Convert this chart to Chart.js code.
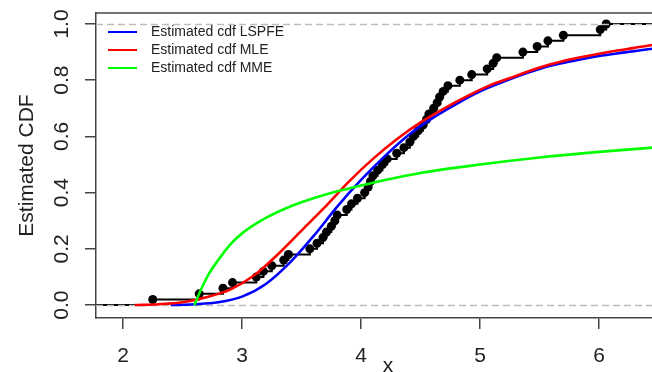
<!DOCTYPE html>
<html>
<head>
<meta charset="utf-8">
<script src="https://cdn.jsdelivr.net/npm/chart.js@4.4.1/dist/chart.umd.min.js"></script>
<style>
  html, body { margin: 0; padding: 0; background: #fff; overflow: hidden; width: 652px; height: 372px; }
  canvas { display: block; }
</style>
</head>
<body>
<canvas id="cdfChart" width="680" height="372"></canvas>
<script>
// observed sample (sorted) -> empirical cdf
const sample = [2.25, 2.64, 2.84, 2.92, 3.12, 3.18, 3.25, 3.35, 3.39, 3.57,
  3.63, 3.68, 3.71, 3.75, 3.78, 3.80, 3.88, 3.92, 3.97, 4.03,
  4.06, 4.08, 4.10, 4.14, 4.18, 4.22, 4.30, 4.36, 4.41, 4.44,
  4.48, 4.52, 4.55, 4.57, 4.61, 4.64, 4.66, 4.69, 4.73, 4.83,
  4.93, 5.06, 5.11, 5.14, 5.36, 5.48, 5.57, 5.70, 6.01, 6.06];

// fitted cdf curves
const lspfeX = [2.40, 2.60, 2.80, 3.00, 3.20, 3.40, 3.60, 3.80, 4.00, 4.20, 4.40, 4.60, 4.80, 5.00, 5.20, 5.40, 5.60, 5.80, 6.00, 6.20, 6.45, 6.68];
const lspfeY = [0.0, 0.003, 0.010, 0.030, 0.075, 0.15, 0.245, 0.35, 0.445, 0.53, 0.605, 0.665, 0.715, 0.76, 0.795, 0.826, 0.852, 0.870, 0.886, 0.898, 0.912, 0.922];
const mleX = [2.10, 2.30, 2.50, 2.70, 2.90, 3.10, 3.30, 3.50, 3.70, 3.90, 4.10, 4.30, 4.50, 4.70, 4.90, 5.10, 5.30, 5.50, 5.70, 5.90, 6.10, 6.30, 6.45, 6.68];
const mleY = [0.0, 0.003, 0.010, 0.028, 0.055, 0.105, 0.18, 0.265, 0.35, 0.44, 0.52, 0.59, 0.65, 0.70, 0.745, 0.785, 0.815, 0.845, 0.868, 0.886, 0.902, 0.915, 0.925, 0.936];
const mmeX = [2.60, 2.65, 2.72, 2.80, 2.90, 3.00, 3.20, 3.40, 3.60, 3.80, 4.00, 4.20, 4.50, 5.00, 5.50, 6.00, 6.45, 6.68];
const mmeY = [0.0, 0.05, 0.11, 0.16, 0.215, 0.255, 0.31, 0.35, 0.38, 0.405, 0.425, 0.445, 0.47, 0.50, 0.525, 0.545, 0.56, 0.566];

const xTicks = [2, 3, 4, 5, 6];
const yTicks = [0, 0.2, 0.4, 0.6, 0.8, 1.0];

const X_MIN = 1.773, X_MAX = 6.68;
const Y_MIN = -0.046, Y_MAX = 1.039;

const pts = (xs, ys) => xs.map((x, i) => ({ x: x, y: ys[i] }));
const ecdfPts = [{ x: X_MIN, y: 0 }]
  .concat(sample.map((x, i) => ({ x: x, y: (i + 1) / sample.length })))
  .concat([{ x: X_MAX, y: 1 }]);

const FONT = "'Liberation Sans', Arial, sans-serif";
const INK = '#222';
const FRAME = '#444';

// grey dashed 0/1 lines right after the ecdf, under the fitted curves
const refLines = {
  id: 'refLines',
  afterDatasetDraw(chart, args) {
    if (args.index !== 0) return;
    const { ctx, chartArea, scales } = chart;
    ctx.save();
    ctx.strokeStyle = '#bdbdbd';
    ctx.lineWidth = 1.5;
    ctx.setLineDash([7, 4]);
    [0, 1].forEach(v => {
      const y = Math.round(scales.y.getPixelForValue(v)) + 0.5;
      ctx.beginPath();
      ctx.moveTo(chartArea.left, y);
      ctx.lineTo(chartArea.right, y);
      ctx.stroke();
    });
    ctx.restore();
  }
};

// top frame line and the R-style legend
const frameAndLegend = {
  id: 'frameAndLegend',
  afterDraw(chart) {
    const { ctx, chartArea } = chart;
    ctx.save();
    ctx.strokeStyle = FRAME;
    ctx.lineWidth = 1.5;
    ctx.beginPath();
    ctx.moveTo(chartArea.left, chartArea.top);
    ctx.lineTo(chartArea.right, chartArea.top);
    ctx.stroke();

    ctx.font = '14px ' + FONT;
    ctx.textBaseline = 'middle';
    ctx.fillStyle = INK;
    chart.data.datasets.slice(1).forEach((ds, i) => {
      const y = 32 + i * 18;
      ctx.strokeStyle = ds.borderColor;
      ctx.lineWidth = 2;
      ctx.beginPath();
      ctx.moveTo(108, y);
      ctx.lineTo(137, y);
      ctx.stroke();
      ctx.fillText(ds.label, 151, y);
    });
    ctx.restore();
  }
};

new Chart(document.getElementById('cdfChart'), {
  type: 'scatter',
  data: {
    datasets: [
      {
        label: 'Empirical cdf',
        data: ecdfPts,
        showLine: true,
        stepped: 'before',
        borderColor: '#000',
        backgroundColor: '#000',
        borderWidth: 2,
        pointRadius: ctx => (ctx.dataIndex === 0 || ctx.dataIndex === ecdfPts.length - 1) ? 0 : 4.5,
        pointBorderWidth: 0,
        order: 4
      },
      {
        label: 'Estimated cdf LSPFE',
        data: pts(lspfeX, lspfeY),
        showLine: true,
        borderColor: '#0000ff',
        borderWidth: 2.6,
        pointRadius: 0,
        cubicInterpolationMode: 'monotone',
        order: 3
      },
      {
        label: 'Estimated cdf MLE',
        data: pts(mleX, mleY),
        showLine: true,
        borderColor: '#ff0000',
        borderWidth: 2.6,
        pointRadius: 0,
        cubicInterpolationMode: 'monotone',
        order: 2
      },
      {
        label: 'Estimated cdf MME',
        data: pts(mmeX, mmeY),
        showLine: true,
        borderColor: '#00ff00',
        borderWidth: 2.6,
        pointRadius: 0,
        cubicInterpolationMode: 'monotone',
        order: 1
      }
    ]
  },
  options: {
    responsive: false,
    animation: false,
    events: [],
    layout: { padding: { top: 13, right: 0, left: 0, bottom: 0 } },
    plugins: { legend: { display: false }, tooltip: { enabled: false } },
    scales: {
      x: {
        type: 'linear',
        position: 'bottom',
        min: X_MIN,
        max: X_MAX,
        afterBuildTicks: s => { s.ticks = xTicks.map(v => ({ value: v })); },
        afterFit: s => { s.height = 54; s.paddingLeft = 0; s.paddingRight = 0; },
        ticks: { font: { family: FONT, size: 21 }, color: INK, padding: 15, maxRotation: 0 },
        grid: { drawOnChartArea: false, drawTicks: true, tickLength: 11, color: FRAME, lineWidth: 1.5 },
        border: { display: true, color: FRAME, width: 1.5 },
        title: { display: true, text: 'x', font: { family: FONT, size: 21 }, color: INK, padding: { top: 0, bottom: -7 } }
      },
      y: {
        type: 'linear',
        position: 'left',
        min: Y_MIN,
        max: Y_MAX,
        afterBuildTicks: s => { s.ticks = yTicks.map(v => ({ value: v })); },
        afterFit: s => { s.width = 96; s.paddingTop = 0; s.paddingBottom = 0; },
        ticks: {
          font: { family: FONT, size: 21 }, color: INK, padding: 8,
          minRotation: 90, maxRotation: 90, crossAlign: 'center',
          callback: v => v.toFixed(1)
        },
        grid: { drawOnChartArea: false, drawTicks: true, tickLength: 11, color: FRAME, lineWidth: 1.5 },
        border: { display: true, color: FRAME, width: 1.5 },
        title: { display: true, text: 'Estimated CDF', font: { family: FONT, size: 21 }, color: INK, padding: { top: 15, bottom: 0 } }
      }
    }
  },
  plugins: [refLines, frameAndLegend]
});
</script>
</body>
</html>
